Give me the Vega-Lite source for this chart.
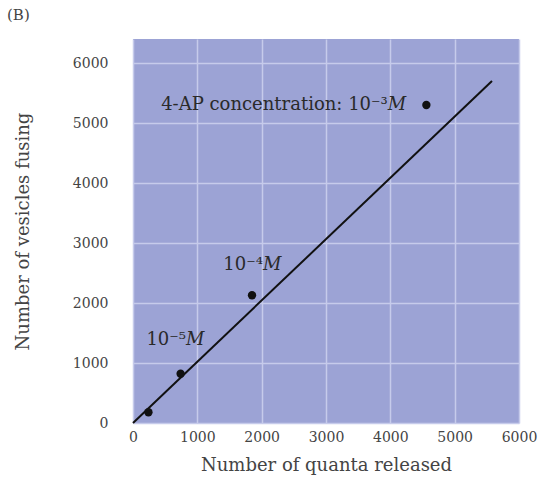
{
  "$schema": "https://vega.github.io/schema/vega-lite/v6.json",
  "width": 386,
  "height": 384,
  "autosize": "none",
  "padding": {"left": 133, "top": 39, "right": 21, "bottom": 56},
  "background": "white",
  "title": {
    "text": "(B)",
    "anchor": "start",
    "frame": "group",
    "orient": "top",
    "dx": -126,
    "offset": 16,
    "font": "DejaVu Serif",
    "fontSize": 15,
    "fontWeight": "normal",
    "color": "#444444"
  },
  "config": {
    "view": {"fill": "#9ca3d5", "stroke": null},
    "axis": {
      "labelFont": "DejaVu Serif",
      "titleFont": "DejaVu Serif",
      "labelFontSize": 14,
      "titleFontSize": 18,
      "titleFontWeight": "normal",
      "labelColor": "#444444",
      "titleColor": "#444444",
      "domain": false,
      "ticks": false,
      "gridColor": "#c6cbeb",
      "gridWidth": 1.5,
      "gridOpacity": 1
    }
  },
  "datasets": {
    "points": [
      {"quanta": 240, "vesicles": 180},
      {"quanta": 740, "vesicles": 820},
      {"quanta": 1850, "vesicles": 2130},
      {"quanta": 4560, "vesicles": 5300}
    ],
    "fit": [
      {"quanta": 0, "vesicles": 0},
      {"quanta": 5580, "vesicles": 5700}
    ],
    "labels": [
      {"quanta": 3960, "vesicles": 5300, "prefix": "4-AP concentration: 10⁻³", "unit": "M"},
      {"quanta": 2020, "vesicles": 2630, "prefix": "10⁻⁴", "unit": "M"},
      {"quanta": 824, "vesicles": 1380, "prefix": "10⁻⁵", "unit": "M"}
    ]
  },
  "layer": [
    {
      "data": {"name": "fit"},
      "mark": {"type": "line", "color": "#111111", "strokeWidth": 2},
      "encoding": {
        "x": {
          "field": "quanta",
          "type": "quantitative",
          "scale": {"domain": [0, 6000], "nice": false},
          "axis": {
            "values": [0, 1000, 2000, 3000, 4000, 5000, 6000],
            "format": "d",
            "labelPadding": 7,
            "labelDx": 4,
            "labelFlush": false,
            "title": "Number of quanta released",
            "titlePadding": 12
          }
        },
        "y": {
          "field": "vesicles",
          "type": "quantitative",
          "scale": {"domain": [0, 6400], "nice": false},
          "axis": {
            "values": [0, 1000, 2000, 3000, 4000, 5000, 6000],
            "format": "d",
            "labelPadding": 25,
            "labelFlush": false,
            "title": "Number of vesicles fusing",
            "titlePadding": 40
          }
        }
      }
    },
    {
      "data": {"name": "points"},
      "mark": {"type": "point", "filled": true, "color": "#111111", "opacity": 1, "size": 70},
      "encoding": {
        "x": {"field": "quanta", "type": "quantitative"},
        "y": {"field": "vesicles", "type": "quantitative"}
      }
    },
    {
      "data": {"name": "labels"},
      "mark": {"type": "text", "align": "right", "baseline": "middle", "font": "DejaVu Serif", "fontSize": 18, "color": "#2a2a2a"},
      "encoding": {
        "x": {"field": "quanta", "type": "quantitative"},
        "y": {"field": "vesicles", "type": "quantitative"},
        "text": {"field": "prefix"}
      }
    },
    {
      "data": {"name": "labels"},
      "mark": {"type": "text", "align": "left", "baseline": "middle", "font": "DejaVu Serif", "fontStyle": "italic", "fontSize": 18, "color": "#2a2a2a"},
      "encoding": {
        "x": {"field": "quanta", "type": "quantitative"},
        "y": {"field": "vesicles", "type": "quantitative"},
        "text": {"field": "unit"}
      }
    }
  ]
}
